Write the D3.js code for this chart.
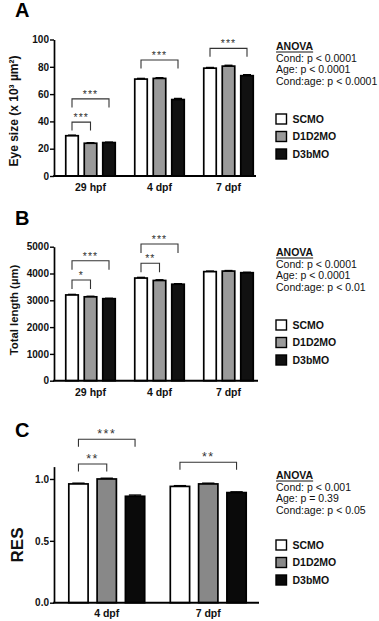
<!DOCTYPE html>
<html><head><meta charset="utf-8">
<script src="https://cdn.jsdelivr.net/npm/d3@7"></script>
<style>
body{margin:0;background:#fff}
svg{display:block;font-family:"Liberation Sans",Arial,Helvetica,sans-serif}
</style>
</head><body>
<svg id="chart" width="379" height="621"></svg>
<script>
// ---------- data ----------
const series = ["SCMO", "D1D2MO", "D3bMO"];
const seriesColors = ["#ffffff", "#9a9a9a", "#111111"];

// Panel A: eye size (x 10^3 µm^2)
const catsA = ["29 hpf", "4 dpf", "7 dpf"];
const eyeSCMO  = [29.5, 71.0, 79.0];
const eyeD1D2  = [24.0, 71.5, 80.5];
const eyeD3b   = [24.5, 56.0, 73.5];
const eyeErrSCMO = [0.4, 0.5, 0.5];
const eyeErrD1D2 = [0.4, 0.5, 0.6];
const eyeErrD3b  = [0.3, 0.8, 0.7];
const ticksA = [0, 20, 40, 60, 80, 100];
const anovaA = ["Cond: p < 0.0001", "Age: p < 0.0001", "Cond:age: p < 0.0001"];
const sigA = [
  {cat: "29 hpf", from: 0, to: 1, level: 39.5, label: "***"},
  {cat: "29 hpf", from: 0, to: 2, level: 56.5, label: "***"},
  {cat: "4 dpf",  from: 0, to: 2, level: 85.0, label: "***"},
  {cat: "7 dpf",  from: 0, to: 2, level: 93.5, label: "***"}
];

// Panel B: total length (µm)
const catsB = ["29 hpf", "4 dpf", "7 dpf"];
const lenSCMO = [3200, 3830, 4070];
const lenD1D2 = [3130, 3740, 4090];
const lenD3b  = [3060, 3600, 4030];
const lenErrSCMO = [20, 25, 20];
const lenErrD1D2 = [20, 25, 20];
const lenErrD3b  = [15, 20, 15];
const ticksB = [0, 1000, 2000, 3000, 4000, 5000];
const anovaB = ["Cond: p < 0.0001", "Age: p < 0.0001", "Cond:age: p < 0.01"];
const sigB = [
  {cat: "29 hpf", from: 0, to: 1, level: 3757, label: "*"},
  {cat: "29 hpf", from: 0, to: 2, level: 4478, label: "***"},
  {cat: "4 dpf",  from: 0, to: 1, level: 4381, label: "**"},
  {cat: "4 dpf",  from: 0, to: 2, level: 5101, label: "***"}
];

// Panel C: RES
const catsC = ["4 dpf", "7 dpf"];
const resSCMO = [0.96, 0.94];
const resD1D2 = [1.00, 0.96];
const resD3b  = [0.86, 0.89];
const resErrSCMO = [0.006, 0.006];
const resErrD1D2 = [0.006, 0.006];
const resErrD3b  = [0.010, 0.006];
const ticksC = [0, 0.5, 1.0];
const anovaC = ["Cond: p < 0.001", "Age: p = 0.39", "Cond:age: p < 0.05"];
const sigC = [
  {cat: "4 dpf", from: 0, to: 1, level: 1.121, label: "**"},
  {cat: "4 dpf", from: 0, to: 2, level: 1.321, label: "***"},
  {cat: "7 dpf", from: 0, to: 2, level: 1.135, label: "**"}
];

// ---------- drawing ----------
const svg = d3.select("#chart");
const FONT = '"Liberation Sans",Arial,Helvetica,sans-serif';

function panel(cfg) {
  const g = svg.append("g");
  const y = d3.scaleLinear().domain(cfg.domain).range(cfg.yRange);
  const x = d3.scaleBand().domain(cfg.cats).range(cfg.xRange);
  const off = d3.scalePoint().domain(d3.range(series.length)).range([-cfg.sub, cfg.sub]);
  const cx = (ci, si) => x(cfg.cats[ci]) + x.bandwidth() / 2 + off(si);

  const rows = [];
  cfg.cats.forEach((c, ci) => series.forEach((s, si) =>
    rows.push({ci, si, v: cfg.values[si][ci], e: cfg.errs[si][ci]})));

  // bars
  g.selectAll("rect.bar").data(rows).join("rect")
    .attr("x", d => cx(d.ci, d.si) - cfg.bw / 2)
    .attr("y", d => y(d.v))
    .attr("width", cfg.bw)
    .attr("height", d => y(0) - y(d.v))
    .attr("fill", d => cfg.colors[d.si])
    .attr("stroke", "#000")
    .attr("stroke-width", 1.7);

  // error bars
  const eb = g.selectAll("g.err").data(rows).join("g");
  eb.append("line")
    .attr("x1", d => cx(d.ci, d.si)).attr("x2", d => cx(d.ci, d.si))
    .attr("y1", d => y(d.v)).attr("y2", d => y(d.v + d.e))
    .attr("stroke", "#000").attr("stroke-width", 1.2);
  eb.append("line")
    .attr("x1", d => cx(d.ci, d.si) - cfg.bw * 0.32)
    .attr("x2", d => cx(d.ci, d.si) + cfg.bw * 0.32)
    .attr("y1", d => y(d.v + d.e)).attr("y2", d => y(d.v + d.e))
    .attr("stroke", "#000").attr("stroke-width", 1.4);

  // y axis
  const ya = g.append("g").attr("transform", `translate(${cfg.x0},0)`)
    .call(d3.axisLeft(y).tickValues(cfg.ticks).tickFormat(cfg.fmt).tickSize(4).tickSizeOuter(0).tickPadding(1));
  ya.select(".domain").attr("stroke", "#000").attr("stroke-width", 1.7);
  ya.selectAll(".tick line").attr("stroke", "#000").attr("stroke-width", 1.4);
  ya.selectAll(".tick text").attr("font-family", FONT).attr("font-size", 10)
    .attr("font-weight", "bold").attr("fill", "#111");

  // x axis
  g.append("line").attr("x1", cfg.x0 - 0.85).attr("x2", cfg.xEnd)
    .attr("y1", y(0)).attr("y2", y(0)).attr("stroke", "#000").attr("stroke-width", 2);
  g.selectAll("text.xl").data(cfg.cats).join("text")
    .attr("x", c => x(c) + x.bandwidth() / 2)
    .attr("y", cfg.xLabelY)
    .attr("text-anchor", "middle")
    .attr("font-size", 10.5).attr("font-weight", "bold").attr("fill", "#111")
    .text(c => c);

  // significance brackets
  cfg.sig.forEach(b => {
    const ci = cfg.cats.indexOf(b.cat);
    const x1 = cx(ci, b.from), x2 = cx(ci, b.to), ly = y(b.level);
    g.append("path")
      .attr("d", `M${x1},${ly + cfg.leg}V${ly}H${x2}V${ly + cfg.leg}`)
      .attr("fill", "none").attr("stroke", "#333").attr("stroke-width", 1.1);
    g.append("text").attr("x", (x1 + x2) / 2).attr("y", ly + cfg.starDy)
      .attr("text-anchor", "middle").attr("font-size", cfg.starSize)
      .attr("letter-spacing", cfg.starLs).attr("fill", "#333")
      .text(b.label);
  });

  // panel letter
  g.append("text").attr("x", 15).attr("y", cfg.letterY)
    .attr("font-size", 20).attr("font-weight", "bold").attr("fill", "#000").text(cfg.letter);

  // y title
  g.append("text")
    .attr("transform", `translate(${cfg.titleX},${cfg.titleY}) rotate(-90)`)
    .attr("text-anchor", "middle")
    .attr("font-size", cfg.titleSize).attr("font-weight", cfg.titleWeight).attr("fill", "#111")
    .text(cfg.title);

  // ANOVA legend
  const lx = 276;
  const head = g.append("text").attr("x", lx).attr("y", cfg.anovaY)
    .attr("font-size", 10.5).attr("font-weight", "bold").attr("fill", "#111").text("ANOVA");
  const hw = head.node().getComputedTextLength();
  g.append("line").attr("x1", lx).attr("x2", lx + hw)
    .attr("y1", cfg.anovaY + 2).attr("y2", cfg.anovaY + 2)
    .attr("stroke", "#111").attr("stroke-width", 1);
  cfg.anova.forEach((t, i) => {
    g.append("text").attr("x", lx).attr("y", cfg.anovaY + 11.5 * (i + 1))
      .attr("font-size", 10.5).attr("fill", "#111").text(t);
  });

  // series legend
  series.forEach((s, i) => {
    const cy = cfg.legY + 17.5 * i;
    g.append("rect").attr("x", lx).attr("y", cy - 5).attr("width", 10.5).attr("height", 10)
      .attr("fill", cfg.colors[i]).attr("stroke", "#000").attr("stroke-width", 1.4);
    g.append("text").attr("x", lx + 16.5).attr("y", cy + 3.8)
      .attr("font-size", 10.5).attr("font-weight", "bold").attr("fill", "#111").text(s);
  });
}

svg.attr("font-family", FONT);

panel({
  letter: "A", letterY: 17,
  cats: catsA, values: [eyeSCMO, eyeD1D2, eyeD3b], errs: [eyeErrSCMO, eyeErrD1D2, eyeErrD3b],
  colors: seriesColors,
  domain: [0, 100], yRange: [176, 39.5], ticks: ticksA, fmt: d3.format("d"),
  xRange: [56, 263], sub: 18.5, bw: 12.5, x0: 54, xEnd: 256, xLabelY: 190.5,
  sig: sigA, leg: 8.5, starDy: -1, starSize: 10.5, starLs: 1,
  title: "Eye size (x 10³ µm²)", titleX: 17.5, titleY: 111, titleSize: 12, titleWeight: "bold",
  anova: anovaA, anovaY: 50, legY: 119
});

panel({
  letter: "B", letterY: 225,
  cats: catsB, values: [lenSCMO, lenD1D2, lenD3b], errs: [lenErrSCMO, lenErrD1D2, lenErrD3b],
  colors: seriesColors,
  domain: [0, 5000], yRange: [380.7, 246.7], ticks: ticksB, fmt: d3.format("d"),
  xRange: [56, 263], sub: 18.5, bw: 12.5, x0: 54, xEnd: 258, xLabelY: 396,
  sig: sigB, leg: 9, starDy: -1, starSize: 10.5, starLs: 1,
  title: "Total length (µm)", titleX: 17.5, titleY: 310, titleSize: 11.3, titleWeight: "bold",
  anova: anovaB, anovaY: 256, legY: 325
});

panel({
  letter: "C", letterY: 437,
  cats: catsC, values: [resSCMO, resD1D2, resD3b], errs: [resErrSCMO, resErrD1D2, resErrD3b],
  colors: ["#ffffff", "#888888", "#0a0a0a"],
  domain: [0, 1.1], yRange: [602.7, 466.6], ticks: ticksC, fmt: d3.format(".1f"),
  xRange: [56, 259], sub: 28.3, bw: 19.3, x0: 54, xEnd: 259, xLabelY: 617,
  sig: sigC, leg: 7.5, starDy: -1.5, starSize: 12.5, starLs: 1.5,
  title: "RES", titleX: 23, titleY: 545, titleSize: 17, titleWeight: "bold",
  anova: anovaC, anovaY: 479, legY: 545
});
</script>
</body></html>
